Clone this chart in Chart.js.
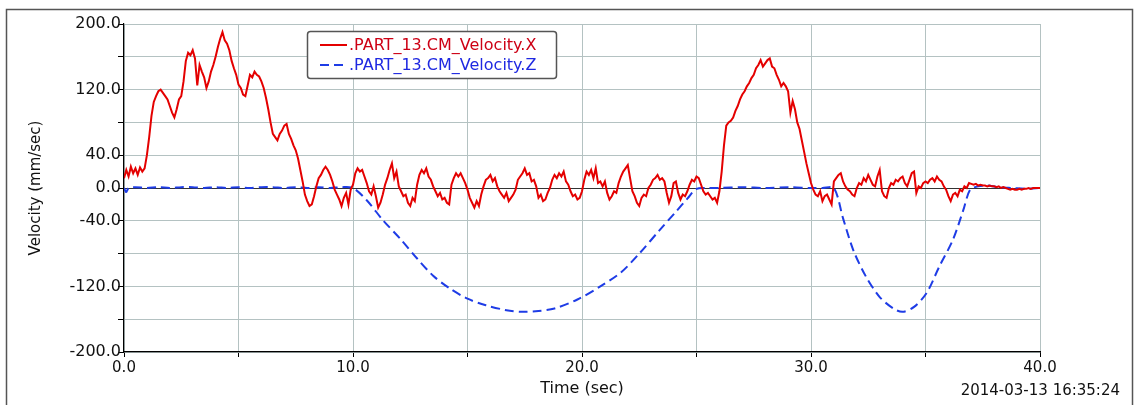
<!DOCTYPE html>
<html>
<head>
<meta charset="utf-8">
<script src="https://cdn.jsdelivr.net/npm/chart.js@4.4.1/dist/chart.umd.min.js"></script>
<style>
  html, body { margin: 0; padding: 0; background: #fff; }
  #wrap { width: 1139px; height: 405px; position: relative; }
</style>
</head>
<body>
<div id="wrap"><canvas id="c" width="1139" height="405"></canvas></div>
<script>
// ---- data ----
const seriesXLabel = '.PART_13.CM_Velocity.X';
const seriesZLabel = '.PART_13.CM_Velocity.Z';
const xAxisTitle = 'Time (sec)';
const yAxisTitle = 'Velocity (mm/sec)';
const timestampText = '2014-03-13 16:35:24';

// X velocity sampled every 0.1 s from 0.0 to 40.0 s
const sampleStepX = 0.1;
const velX = [
  12, 22, 14, 26, 18, 24, 16, 25, 20, 24,
  40, 62, 88, 105, 112, 118, 120, 116, 112, 108,
  100, 92, 86, 96, 108, 112, 130, 155, 165, 162,
  168, 158, 125, 150, 142, 135, 122, 130, 142, 150,
  160, 172, 182, 190, 180, 176, 168, 155, 146, 138,
  126, 122, 114, 112, 125, 138, 135, 142, 138, 136,
  130, 122, 110, 96, 80, 66, 62, 58, 66, 70,
  76, 78, 66, 60, 52, 46, 36, 22, 8, -8,
  -16, -22, -20, -10, 2, 12, 16, 22, 26, 22,
  16, 8, -2, -8, -14, -22, -12, -6, -20, -2,
  4, 18, 24, 20, 22, 14, 6, -4, -8, 2,
  -10, -24, -18, -8, 4, 12, 22, 30, 12, 20,
  2, -4, -10, -8, -18, -22, -12, -16, 4, 16,
  22, 18, 24, 14, 10, 2, -4, -10, -6, -14,
  -12, -18, -20, 4, 12, 18, 14, 18, 12, 6,
  -2, -12, -18, -24, -16, -22, -8, 2, 10, 12,
  16, 8, 12, 2, -4, -8, -12, -6, -16, -12,
  -8, -2, 10, 14, 18, 24, 16, 18, 8, 10,
  2, -12, -8, -16, -14, -6, 0, 10, 16, 12,
  18, 14, 20, 8, 4, -4, -10, -8, -14, -12,
  -4, 10, 20, 16, 22, 12, 24, 6, 8, 2,
  8, -6, -14, -10, -4, -6, 6, 14, 20, 24,
  28, 12, -4, -10, -18, -22, -12, -8, -10, 0,
  4, 10, 12, 16, 10, 12, 8, -6, -18, -10,
  6, 8, -6, -14, -8, -10, -4, 4, 10, 8,
  14, 12, 4, -4, -8, -6, -10, -14, -12, -18,
  -4, 20, 52, 76, 80, 82, 86, 94, 100, 108,
  114, 118, 124, 128, 134, 138, 146, 150, 156, 148,
  152, 156, 158, 148, 146, 138, 132, 124, 128, 124,
  118, 92, 106, 96, 80, 72, 58, 44, 30, 18,
  6, -2, -8, -10, -4, -16, -10, -8, -14, -20,
  8, 12, 16, 18, 8, 2, -2, -4, -8, -10,
  0, 6, 4, 12, 8, 16, 10, 4, 2, 14,
  22, -4, -10, -12, 0, 6, 4, 10, 8, 12,
  14, 6, 2, 10, 18, 20, -6, 2, 0, 6,
  8, 6, 10, 12, 8, 14, 10, 8, 2, -2,
  -10, -16, -8, -6, -10, -2, -4, 2, 0, 6,
  5, 4, 5, 3, 4, 3, 3, 2, 3, 2,
  2, 1, 2, 0, 1, 0, -1, -2, -1, -2,
  -2, -1, -2, -1, -1, 0, -1, 0, 0, 0,
  0
];

// Z velocity (smooth), irregular sample times
const timeZ = [0, 0.1, 0.2, 0.5, 1, 1.5, 2, 2.5, 3, 3.5, 4, 4.5, 5, 5.5, 6, 6.5, 7, 7.5, 8, 8.5, 9, 9.5, 10,
  10.6, 11.3, 12.1, 12.8, 13.5, 14.2, 15.0, 15.8, 16.7, 17.4, 18.1, 18.8, 19.8, 20.8, 21.7, 22.5, 23.4, 24.1, 24.6, 25.0,
  25.5, 26, 27, 28, 29, 30, 30.5, 31.0,
  31.4, 31.85, 32.4, 33.0, 33.6, 34.0, 34.5, 35.05, 35.6, 36.2, 36.65, 36.95,
  37.3, 37.7, 38.2, 38.8, 39.4, 40];
const velZ = [0, -5, 0, 1, 0, 1, 0, 1, 1, 0, 1, 0, 1, 0, 1, 1, 0, 1, 0, 1, 0, 1, 0,
  -15, -39, -63, -86, -107, -122, -135, -143, -149, -151, -150, -147, -136, -120, -103, -80, -51, -29, -13, -1,
  0, 0, 1, 0, 1, 0, 0, 0,
  -37, -76, -108, -133, -147, -151, -145, -128, -96, -63, -27, -2,
  2, 3, 1, 0, -1, 0];

const yTickLabels = [200, 120, 40, 0, -40, -120, -200];
const xTickLabels = [0, 10, 20, 30, 40];

// ---- build ----
const redColor = 'rgb(228,0,0)';
const blueColor = 'rgb(30,60,230)';
const gridColor = 'rgb(180,194,194)';

const pointsX = velX.map((v, i) => ({ x: i * sampleStepX, y: v }));
const pointsZ = velZ.map((v, i) => ({ x: timeZ[i], y: v }));

const decorPlugin = {
  id: 'decor',
  afterDraw(chart) {
    const ctx = chart.ctx;
    ctx.save();
    // outer frame
    ctx.strokeStyle = '#555';
    ctx.lineWidth = 1.5;
    ctx.strokeRect(6.5, 9.5, 1126, 420);
    // legend box
    const lx = 307.5, ly = 31.5, lw = 249, lh = 47;
    ctx.fillStyle = '#fff';
    ctx.beginPath();
    ctx.roundRect(lx, ly, lw, lh, 3);
    ctx.fill();
    ctx.strokeStyle = '#555';
    ctx.lineWidth = 1.5;
    ctx.stroke();
    const ds = chart.data.datasets;
    const rows = [45, 65];
    ds.forEach((d, i) => {
      ctx.beginPath();
      ctx.strokeStyle = d.borderColor;
      ctx.lineWidth = 2;
      ctx.setLineDash(d.borderDash || []);
      ctx.moveTo(320, rows[i]);
      ctx.lineTo(347, rows[i]);
      ctx.stroke();
      ctx.setLineDash([]);
      ctx.fillStyle = d.legendTextColor;
      ctx.font = '16px "DejaVu Sans"';
      ctx.textAlign = 'left';
      ctx.textBaseline = 'middle';
      ctx.fillText(d.label, 349, rows[i] + 1);
    });
    // timestamp
    ctx.fillStyle = '#111';
    ctx.font = '15px "DejaVu Sans"';
    ctx.textAlign = 'right';
    ctx.textBaseline = 'middle';
    ctx.fillText(timestampText, 1120, 391);
    ctx.restore();
  }
};

Chart.defaults.font.family = '"DejaVu Sans", sans-serif';
Chart.defaults.color = '#111';

new Chart(document.getElementById('c'), {
  type: 'line',
  data: {
    datasets: [
      {
        label: seriesXLabel,
        data: pointsX,
        borderColor: redColor,
        legendTextColor: 'rgb(205,0,20)',
        borderWidth: 2,
        pointRadius: 0,
        tension: 0,
        fill: false
      },
      {
        label: seriesZLabel,
        data: pointsZ,
        borderColor: blueColor,
        legendTextColor: 'rgb(30,40,225)',
        borderWidth: 2,
        borderDash: [9, 5],
        pointRadius: 0,
        tension: 0.3,
        fill: false
      }
    ]
  },
  options: {
    responsive: false,
    animation: false,
    layout: { padding: { left: 0, top: 24, right: 99, bottom: 0 } },
    plugins: { legend: { display: false }, tooltip: { enabled: false } },
    scales: {
      x: {
        type: 'linear',
        min: 0, max: 40,
        afterFit(scale) { scale.height = 53; },
        ticks: {
          stepSize: 5,
          autoSkip: false,
          maxRotation: 0,
          padding: 2,
          font: { size: 15 },
          color: '#111',
          callback: (v) => xTickLabels.includes(v) ? v.toFixed(1) : ''
        },
        grid: {
          color: gridColor,
          lineWidth: 1,
          tickLength: 5,
          tickColor: '#000',
          drawOnChartArea: true
        },
        border: { display: true, color: '#000', width: 1.2 },
        title: {
          display: true,
          text: xAxisTitle,
          font: { size: 16 },
          color: '#111',
          padding: { top: 0, bottom: 7 }
        }
      },
      y: {
        min: -200, max: 200,
        afterFit(scale) { scale.width = 124; },
        ticks: {
          stepSize: 40,
          autoSkip: false,
          padding: -3,
          font: { size: 16 },
          color: '#111',
          callback: (v) => yTickLabels.includes(v) ? v.toFixed(1) : ''
        },
        grid: {
          color: (c) => (c.tick && c.tick.value === 0) ? '#333' : gridColor,
          lineWidth: 1,
          tickLength: 6,
          tickColor: '#000'
        },
        border: { display: true, color: '#000', width: 1.2 },
        title: {
          display: true,
          text: yAxisTitle,
          font: { size: 15 },
          color: '#111',
          padding: { top: 27, bottom: 0 }
        }
      }
    }
  },
  plugins: [decorPlugin]
});
</script>
</body>
</html>
